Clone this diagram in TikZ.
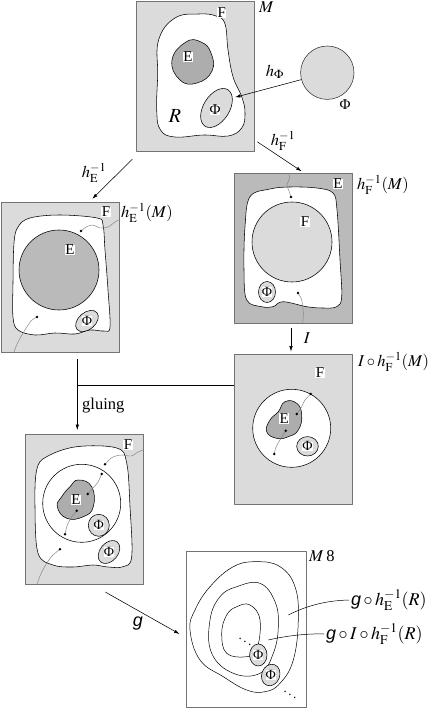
\documentclass[tikz,border=0pt]{standalone}
\usepackage{mathptmx}
\usepackage{fontspec}
\setmainfont{Liberation Serif}
\newfontfamily\gsans{Liberation Sans}
\usetikzlibrary{arrows.meta}
\newcommand{\gmap}{\mbox{\gsans\itshape g}}
\tikzset{
  panel/.style={draw=black!55,line width=0.8pt,fill=black!14,minimum width=118pt,minimum height=150pt,inner sep=0pt},
  region/.style={draw=black,line width=0.55pt,fill=white},
  blob/.style={draw=black,line width=0.55pt,fill=black!32},
  phi/.style={draw=black,line width=0.55pt,fill=black!14},
  trace/.style={draw=black!50,line width=0.45pt},
  tag/.style={fill=white,inner sep=0.4pt,font=\fontsize{15}{16}\selectfont},
  phitag/.style={fill=white,inner sep=0pt,font=\fontsize{14}{15}\selectfont},
  maplabel/.style={inner sep=0pt,font=\fontsize{16.5}{18}\selectfont},
  maparrow/.style={line width=0.55pt,-{Latex[length=5.5pt,width=3.4pt]}}
}
\begin{document}
\begin{tikzpicture}[x=1pt,y=-1pt,line join=round]
\useasboundingbox (0,0) rectangle (428,708);
% panel M
\node[panel] (mtop) at (195.3,76.4) {};
\draw[region] plot[smooth cycle,tension=0.7] coordinates {(158.6,40) (175,18) (199,14) (216,16) (225,24) (228,50) (233,76.7) (241.7,96.7) (245,113) (241.7,128) (228,136) (204,135) (175,137) (160.5,130) (156.7,110) (157.7,75)};
\draw[blob] plot[smooth cycle,tension=0.8] coordinates {(172,60) (180,80) (197,83) (212,71) (211,53) (201,42) (186,42)};
\node[tag] (tagEa) at (188,57) {E};
\coordinate (phia) at (216.5,108);
\draw[phi,rotate around={-32:(phia)}] (phia) ellipse (13 and 21.5);
\node[phitag,font=\fontsize{15}{16}\selectfont] (tagPa) at (215,110) {Φ};
\node[tag] (tagFa) at (221.7,12.7) {F};
\node[maplabel,font=\fontsize{20}{22}\selectfont] (labR) at (175,116) {$R$};
\node[maplabel,anchor=west] (labM) at (259,7) {$M$};
% the ball
\node[circle,draw=black!80,line width=0.55pt,fill=black!14,minimum size=53.4pt,inner sep=0pt] (ball) at (327.3,72.7) {};
\node[phitag,fill=none,font=\fontsize{15}{16}\selectfont] (labPhi) at (345,105) {Φ};
\coordinate (phitip) at (235,97.3);
\draw[maparrow] (ball) -- (phitip);
\node[maplabel] (labhPhi) at (275,71.7) {$h_\Phi$};
% panel h_E^-1(M)
\node[panel] (mleft) at (60.8,277) {};
\draw[region] plot[smooth cycle,tension=0.6] coordinates {(18,227) (30,218) (60,215) (97,218) (103,225) (105,250) (108,290) (110,327) (104,331) (90,330) (75,334) (55,333) (35,335) (18,330) (13,317) (13,283) (14,243)};
\draw[blob,fill=black!27] (59,270) circle (40);
\node[tag] (tagEb) at (70,250) {E};
\node[tag] (tagFb) at (106,212) {F};
\draw[trace] plot[smooth] coordinates {(81,231) (86,227) (93,225) (100,228) (108,227) (115,222) (119.5,219.5)};
\fill (81,231) circle (1.4);
\draw[trace] plot[smooth] coordinates {(37,317) (31,321) (25,330) (18,342) (14,352)};
\fill (37,317) circle (1.4);
\coordinate (phib) at (87,321);
\draw[phi,rotate around={40:(phib)}] (phib) ellipse (13 and 8.5);
\node[phitag] (tagPb) at (phib) {Φ};
\node[maplabel,anchor=west] (labhE) at (121,213) {$h^{-1}_{\mathrm E}(M)$};
% panel h_F^-1(M)
\node[panel,fill=black!27] (mright) at (293.5,248) {};
\draw[region] plot[smooth cycle,tension=0.6] coordinates {(250,196.7) (270,189) (290,187) (316.7,188) (333,193) (337,210) (340,260) (341.7,296.7) (336.7,306.7) (323,308) (306.7,306.7) (283,301.7) (273,306.7) (261.7,306.7) (246.7,300) (244,270) (245,226.7)};
\draw[phi] (292,242) circle (40);
\node[tag] (tagFc) at (305,222) {F};
\node[tag] (tagEc) at (338,184) {E};
\draw[trace] plot[smooth] coordinates {(291,197) (289,191) (287,185) (289.5,178) (288.5,173)};
\fill (291,197) circle (1.4);
\draw[trace] plot[smooth] coordinates {(298,293) (301.7,300) (303.3,313) (302.7,323)};
\fill (298,293) circle (1.4);
\draw[phi] (267,292) ellipse (8.5 and 10.5);
\node[phitag] (tagPc) at (267,292) {Φ};
\node[maplabel,anchor=west] (labhF) at (357,185) {$h^{-1}_{\mathrm F}(M)$};
% panel I o h_F^-1(M)
\node[panel] (mI) at (293.5,429.5) {};
\draw[region] (291.7,428.3) circle (39);
\draw[blob] plot[smooth cycle,tension=0.8] coordinates {(285,401.7) (296.7,403.3) (301.7,415) (298.3,430) (288.3,436.7) (276.7,438.3) (266.7,431.7) (270,420) (278.3,411.7)};
\node[tag] (tagEd) at (284.3,418.3) {E};
\draw[trace] plot[smooth] coordinates {(310.7,394) (305,400) (301,408) (296.7,414)};
\draw[trace] plot[smooth] coordinates {(285.7,430.7) (280,440) (276,447) (274.3,454)};
\foreach \p in {(310.7,394),(296.7,414),(285.7,430.7),(274.3,454)} \fill \p circle (1.4);
\draw[phi] (307.5,446.3) ellipse (10.8 and 9.7);
\node[phitag] (tagPd) at (307.5,446.3) {Φ};
\node[tag] (tagFd) at (320,373) {F};
\node[maplabel,anchor=west] (labIhF) at (358,362) {$I\circ h^{-1}_{\mathrm F}(M)$};
% glued panel
\node[panel] (mglue) at (84,509.5) {};
\draw[region] plot[smooth cycle,tension=0.6] coordinates {(46.7,456.7) (76.7,446.7) (116.7,448) (126.7,463) (130,506.7) (131.7,556.7) (123,566.7) (108,567) (93,565) (73,567) (53,565) (38,553) (35,506.7) (36.7,470)};
\draw[line width=0.55pt] (81.7,503.3) circle (39);
\draw[blob] plot[smooth cycle,tension=0.8] coordinates {(78.3,480) (91.7,486.7) (93.3,506.7) (83.3,516.7) (66.7,518.3) (57.3,506.7) (61.7,496.7) (70,486.7)};
\node[tag] (tagEe) at (76,500) {E};
\node[tag] (tagFe) at (128,445) {F};
\draw[trace] plot[smooth] coordinates {(105,464.3) (112,457.5) (121,455) (131,456) (138,452) (143,450)};
\draw[trace] plot[smooth] coordinates {(101.7,474) (98,482) (93,488) (87.7,494)};
\draw[trace] plot[smooth] coordinates {(76.7,510.7) (71,518) (67,526) (65,534.3)};
\draw[trace] plot[smooth] coordinates {(60,549.3) (52,556) (45,566) (40,576) (37,584.5)};
\foreach \p in {(105,464.3),(101.7,474),(87.7,494),(76.7,510.7),(65,534.3),(60,549.3)} \fill \p circle (1.4);
\draw[phi] (98.8,525.3) ellipse (10.5 and 11);
\node[phitag] (tagPe) at (98.8,525.3) {Φ};
\coordinate (phie) at (109,552);
\draw[phi,rotate around={50:(phie)}] (phie) ellipse (13 and 9);
\node[phitag] (tagPf) at (phie) {Φ};
% final panel
\node[panel,fill=white,minimum width=120pt,minimum height=156pt] (mfinal) at (246,629) {};
\draw[line width=0.5pt] plot[smooth cycle,tension=0.7] coordinates {(190,630) (195,610) (210,586.7) (233.3,566.7) (256.7,561.7) (280,566.7) (295,586.7) (298.3,620) (293.3,660) (280,683.3) (265,691.7) (246.7,690) (223.3,676.7) (200,660)};
\draw[line width=0.5pt] plot[smooth cycle,tension=0.7] coordinates {(210,620) (220,596.7) (236.7,586.7) (260,583.3) (275,601.7) (278.3,626.7) (273.3,653.3) (260,673.3) (233.3,673.3) (211.7,653.3)};
\draw[line width=0.5pt] plot[smooth cycle,tension=0.7] coordinates {(236.7,606.7) (250,605) (260,620) (256.7,650) (246.7,656.7) (226.7,653.3) (221.7,633.3) (226.7,615)};
\draw[phi] (258.3,655) ellipse (8.7 and 11);
\node[phitag] (tagPg) at (258.3,655) {Φ};
\coordinate (phih) at (270.7,675);
\draw[phi,rotate around={-20:(phih)}] (phih) ellipse (9 and 11);
\node[phitag] (tagPh) at (phih) {Φ};
\node[font=\fontsize{13}{15}\selectfont,inner sep=0pt] (dotsa) at (245,639) {$\ddots$};
\node[font=\fontsize{13}{15}\selectfont,inner sep=0pt] (dotsb) at (290,692) {$\ddots$};
\node[maplabel,anchor=west] (labM8) at (309,556) {$M$\,8};
\node[maplabel,font=\fontsize{18}{20}\selectfont,anchor=west] (labA) at (351,600) {$\gmap\circ h^{-1}_{\mathrm E}(R)$};
\node[maplabel,font=\fontsize{18}{20}\selectfont,anchor=west] (labB) at (326,634) {$\gmap\circ I\circ h^{-1}_{\mathrm F}(R)$};
\coordinate (leadA) at (288.3,615);
\coordinate (leadB) at (268.3,640);
\draw[line width=0.5pt] (leadA) .. controls (310,604) and (330,600.5) .. ([xshift=-2pt]labA.west);
\draw[line width=0.5pt] (leadB) .. controls (290,635) and (310,633.5) .. ([xshift=-2pt]labB.west);
% maps
\draw[maparrow] ([xshift=-3.6pt,yshift=-7.5pt]mtop.south west) -- ([xshift=-28pt,yshift=2.7pt]mleft.north east);
\node[maplabel] (labhEinv) at (94,173) {$h^{-1}_{\mathrm E}$};
\draw[maparrow] ([xshift=2.6pt,yshift=10pt]mtop.south east) -- ([xshift=8.2pt,yshift=1.3pt]mright.north);
\node[maplabel] (labhFinv) at (283,141) {$h^{-1}_{\mathrm F}$};
\draw[maparrow] ([xshift=-2.5pt,yshift=-4.5pt]mright.south) -- ([xshift=-2.5pt,yshift=2.5pt]mI.north);
\node[maplabel] (labI) at (307,338) {$I$};
\coordinate (join) at (77.3,385);
\draw[line width=0.55pt] (join) -- (join -| mI.west);
\draw[maparrow] ([yshift=-7pt]join |- mleft.south) -- ([yshift=4pt]join |- mglue.north);
\node[maplabel,anchor=west] (labglue) at (82,406) {gluing};
\draw[maparrow] ([xshift=-38pt,yshift=-7.2pt]mglue.south east) -- ([xshift=-6pt,yshift=-5pt]mfinal.west);
\node[maplabel,font=\fontsize{18}{20}\selectfont] (labg) at (138,624) {\gmap};
\end{tikzpicture}
\end{document}
